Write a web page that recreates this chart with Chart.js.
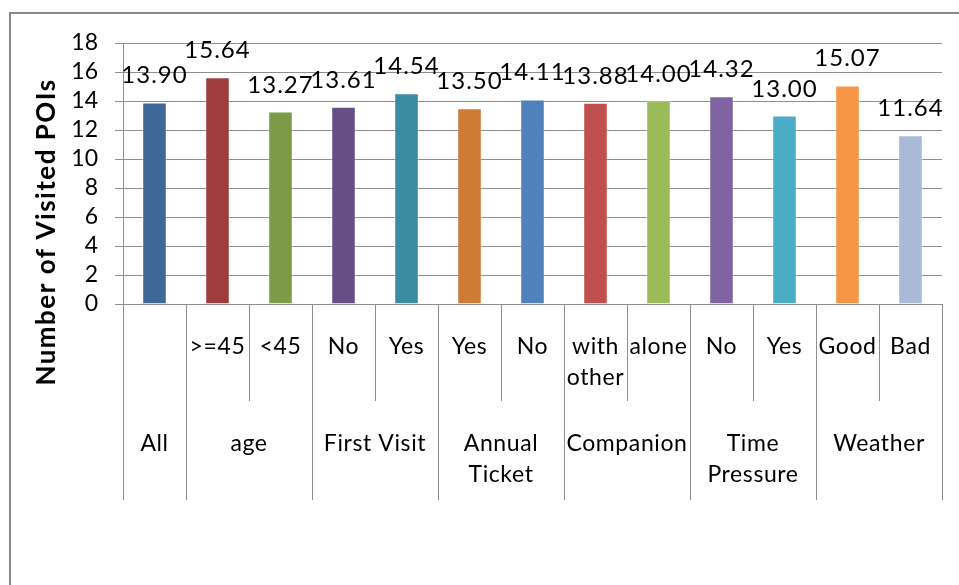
<!DOCTYPE html>
<html>
<head>
<meta charset="utf-8">
<script src="https://cdn.jsdelivr.net/npm/chart.js@4/dist/chart.umd.min.js"></script>
<style>
  html, body { margin: 0; padding: 0; background: #fff; }
  #wrap { position: relative; width: 959px; height: 585px; }
</style>
</head>
<body>
<div id="wrap"><canvas id="c" width="959" height="585"></canvas></div>
<script>
// Mean number of visited POIs per visitor segment
const subLabels = ['', '>=45', '<45', 'No', 'Yes', 'Yes', 'No', ['with', 'other'], 'alone', 'No', 'Yes', 'Good', 'Bad'];
const values = [13.90, 15.64, 13.27, 13.61, 14.54, 13.50, 14.11, 13.88, 14.00, 14.32, 13.00, 15.07, 11.64];
const barColors = ['#3E6898', '#9E3E3C', '#7D9A49', '#674F86', '#3B8CA3', '#CF7B38', '#4F81BD',
                   '#C0504D', '#9BBB59', '#8064A2', '#4BACC6', '#F79646', '#A9B9D7'];
const groupNames = [['All'], ['age'], ['First Visit'], ['Annual', 'Ticket'], ['Companion'], ['Time', 'Pressure'], ['Weather']];
const groupSizes = [1, 2, 2, 2, 2, 2, 2];
const yTicks = [0, 2, 4, 6, 8, 10, 12, 14, 16, 18];
const yTitle = 'Number of Visited POIs';

const FONT = 'Lato, Carlito, Calibri, sans-serif';
const LINE = '#8E8E8E';

const frame = {
  id: 'frame',
  beforeDraw(chart) {
    const ctx = chart.ctx;
    ctx.save();
    ctx.strokeStyle = '#8A8A8A';
    ctx.lineWidth = 2;
    ctx.beginPath();
    ctx.moveTo(10, 600);
    ctx.lineTo(10, 13);
    ctx.lineTo(970, 13);
    ctx.stroke();
    ctx.restore();
  }
};

const annotate = {
  id: 'annotate',
  afterDraw(chart) {
    const ctx = chart.ctx;
    const x = chart.scales.x;
    const area = chart.chartArea;
    const n = values.length;
    const step = (x.right - x.left) / n;
    const edge = i => Math.round(x.left + i * step) + 0.5;
    const base = area.bottom;
    ctx.save();

    // value labels above the bars
    const meta = chart.getDatasetMeta(0);
    ctx.fillStyle = '#000';
    ctx.font = '24px ' + FONT;
    ctx.letterSpacing = '1px';
    ctx.textAlign = 'center';
    ctx.textBaseline = 'alphabetic';
    meta.data.forEach((bar, i) => {
      ctx.fillText(values[i].toFixed(2), bar.x, bar.y - 19);
    });

    // category separators: short ones inside a group, long ones between groups
    ctx.strokeStyle = LINE;
    ctx.lineWidth = 1;
    const groupEdges = new Set([0]);
    let acc = 0;
    groupSizes.forEach(s => { acc += s; groupEdges.add(acc); });
    for (let i = 0; i <= n; i++) {
      const long = groupEdges.has(i);
      ctx.beginPath();
      ctx.moveTo(edge(i), base);
      ctx.lineTo(edge(i), base + (long ? 196 : 97));
      ctx.stroke();
    }

    // sub-category labels
    ctx.fillStyle = '#000';
    ctx.font = '23px ' + FONT;
    ctx.letterSpacing = '0.6px';
    ctx.textBaseline = 'middle';
    subLabels.forEach((lab, i) => {
      const lines = Array.isArray(lab) ? lab : [lab];
      const cx = x.getPixelForValue(i);
      lines.forEach((t, k) => ctx.fillText(t, cx, base + 43 + k * 31));
    });

    // group labels
    let start = 0;
    groupNames.forEach((lines, g) => {
      const cx = x.left + (start + groupSizes[g] / 2) * step;
      lines.forEach((t, k) => ctx.fillText(t, cx, base + 140 + k * 31));
      start += groupSizes[g];
    });

    // y axis title
    ctx.translate(47, 232);
    ctx.rotate(-Math.PI / 2);
    ctx.font = 'bold 26px ' + FONT;
    ctx.letterSpacing = '1.5px';
    ctx.fillText(yTitle, 0, 0);
    ctx.restore();
  }
};

new Chart(document.getElementById('c'), {
  type: 'bar',
  data: {
    labels: subLabels.map(l => Array.isArray(l) ? l.join(' ') : l),
    datasets: [{
      data: values,
      backgroundColor: barColors,
      borderColor: 'rgba(255,255,255,0.35)',
      borderWidth: 1,
      categoryPercentage: 1,
      barPercentage: 0.39
    }]
  },
  options: {
    responsive: false,
    animation: false,
    devicePixelRatio: 1,
    layout: { padding: { top: 43, right: 17, left: 0, bottom: 0 } },
    plugins: { legend: { display: false }, tooltip: { enabled: false } },
    scales: {
      x: {
        offset: true,
        grid: { display: false },
        border: { display: false },
        ticks: { display: false },
        afterFit(s) { s.height = 281; }
      },
      y: {
        min: 0,
        max: 18,
        afterBuildTicks(s) { s.ticks = yTicks.map(v => ({ value: v })); },
        grid: { color: LINE, lineWidth: 1, tickLength: 8 },
        border: { display: true, color: LINE, width: 1 },
        ticks: { color: '#000', font: { family: FONT, size: 23 }, padding: 17, autoSkip: false, stepSize: 2 },
        afterFit(s) { s.width = 123; }
      }
    }
  },
  plugins: [frame, annotate]
});
</script>
</body>
</html>
